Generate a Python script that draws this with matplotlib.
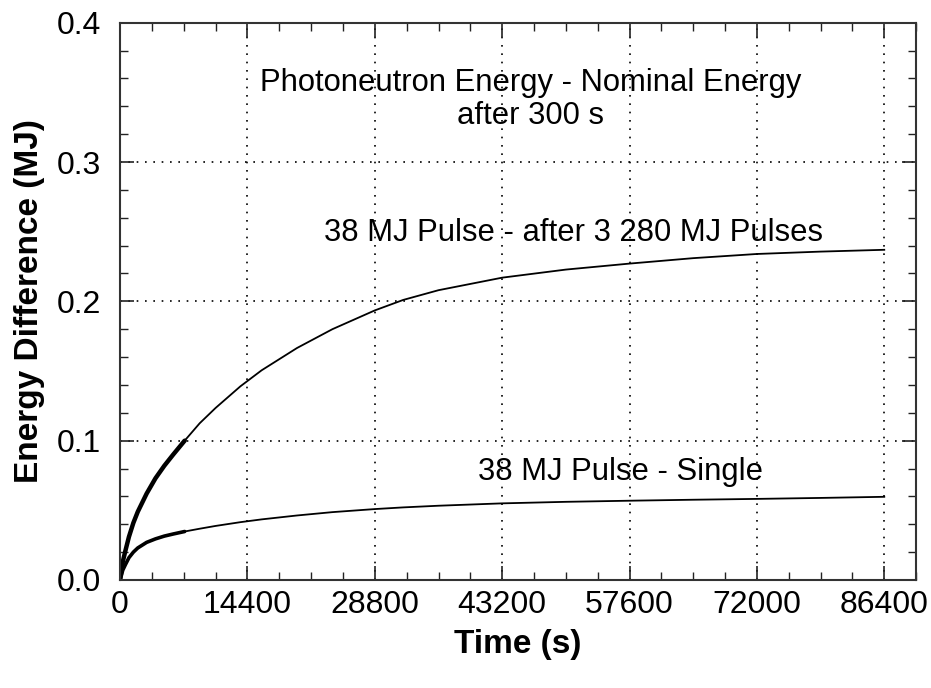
import numpy as np
import matplotlib
matplotlib.use('Agg')
import matplotlib.pyplot as plt
from matplotlib.ticker import MultipleLocator, FormatStrFormatter

plt.rcParams['font.family'] = ['Liberation Sans', 'DejaVu Sans']

# Datos
tiempo = [0, 300, 600, 1000, 1500, 2000, 3000, 4000, 5000, 6000, 7300, 9000,
          10800, 13600, 16000, 20000, 24000, 28800, 32000, 36000, 43200,
          50400, 57600, 64800, 72000, 79200, 86400]
pulsos_previos = [0, 0.013, 0.021, 0.031, 0.041, 0.049, 0.062, 0.073, 0.082,
                  0.090, 0.100, 0.1125, 0.1235, 0.139, 0.1505, 0.1665, 0.180,
                  0.1935, 0.201, 0.208, 0.217, 0.2228, 0.2271, 0.231, 0.234,
                  0.2357, 0.237]
pulso_simple = [0, 0.007, 0.011, 0.016, 0.020, 0.023, 0.027, 0.0295, 0.0315,
                0.0330, 0.0348, 0.0368, 0.0388, 0.0415, 0.0435, 0.0463,
                0.0487, 0.0509, 0.0521, 0.0533, 0.0550, 0.0561, 0.0569,
                0.0576, 0.0582, 0.0589, 0.0597]
n_denso = 11  # primeros puntos dibujados mas gruesos (muestreo denso)

xticks = [0, 14400, 28800, 43200, 57600, 72000, 86400]

fig = plt.figure(figsize=(9.31, 6.88), dpi=100)
ax = fig.add_axes([0.129, 0.157, 0.855, 0.81])

ax.plot(tiempo, pulsos_previos, color='black', lw=1.3)
ax.plot(tiempo, pulso_simple, color='black', lw=1.3)
ax.plot(tiempo[:n_denso], pulsos_previos[:n_denso], color='black', lw=3.2,
        solid_capstyle='round')
ax.plot(tiempo[:n_denso], pulso_simple[:n_denso], color='black', lw=2.6,
        solid_capstyle='round')

ax.set_xlim(0, 90000)
ax.set_ylim(0, 0.4)
ax.set_xticks(xticks)
ax.xaxis.set_minor_locator(MultipleLocator(3600))
ax.yaxis.set_major_locator(MultipleLocator(0.1))
ax.yaxis.set_minor_locator(MultipleLocator(0.02))
ax.yaxis.set_major_formatter(FormatStrFormatter('%.1f'))
ax.tick_params(which='both', direction='in', top=True, right=True,
               labelsize=23, color='#222222')
ax.tick_params(which='major', length=10, width=1.2, pad=7)
ax.tick_params(axis='y', which='major', pad=14)
ax.tick_params(which='minor', length=6, width=1)
ax.grid(True, which='major', linestyle=(0, (1, 4)), color='black', lw=1.2)
for s in ax.spines.values():
    s.set_linewidth(1.5)
    s.set_color('#333333')

ax.set_xlabel('Time (s)', fontsize=24, fontweight='bold', labelpad=7)
ax.set_ylabel('Energy Difference (MJ)', fontsize=24, fontweight='bold', labelpad=8)

ax.text(46400, 0.345, 'Photoneutron Energy - Nominal Energy\nafter 300 s',
        fontsize=22.3, ha='center', va='center', linespacing=1.15)
ax.text(51300, 0.249, '38 MJ Pulse - after 3 280 MJ Pulses',
        fontsize=22.3, ha='center', va='center')
ax.text(56600, 0.0774, '38 MJ Pulse - Single',
        fontsize=22.3, ha='center', va='center')

plt.savefig('out.png', dpi=100)
